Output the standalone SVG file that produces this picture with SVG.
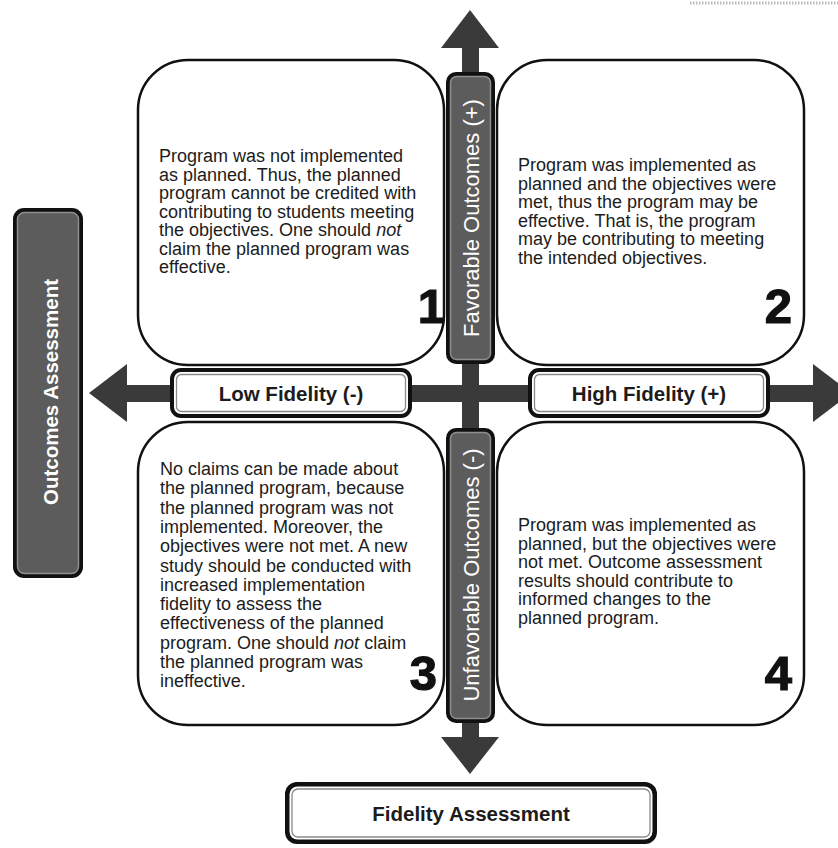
<svg xmlns="http://www.w3.org/2000/svg" width="838" height="848" viewBox="0 0 838 848">
<style>
.bg{fill:#fff}
.quad{fill:#fff;stroke:#111;stroke-width:2.5}
.qt{font-family:"Liberation Sans",Arial,sans-serif;font-size:18px;fill:#1c1c1c}
.num{font-family:"Liberation Sans",Arial,sans-serif;font-weight:bold;font-size:49px;fill:#111;stroke:#111;stroke-width:1.2}
.lbl{font-family:"Liberation Sans",Arial,sans-serif;font-weight:bold;font-size:20.5px;fill:#1c1c1c;text-anchor:middle}
.vt{font-family:"Liberation Sans",Arial,sans-serif;font-size:22px;fill:#fff;text-anchor:middle}
.vtb{font-family:"Liberation Sans",Arial,sans-serif;font-weight:bold;font-size:20.5px;fill:#fff;text-anchor:middle}
.ax{fill:#3a3a3a}
.outer{fill:#111}
.wfill{fill:#fff}
.winner{fill:#fff;stroke:#8a8a8a;stroke-width:1.3}
.dinner{fill:#5c5c5c;stroke:#8e8e8e;stroke-width:1.5}
</style>
<rect class="bg" x="0" y="0" width="838" height="848"/>
<line x1="690" y1="3" x2="838" y2="3" stroke="#bbb" stroke-width="3" stroke-dasharray="1.5 1.5"/>

<g id="connectors">
  <rect class="ax" x="462" y="46" width="17" height="692"/>
  <rect class="ax" x="126" y="385" width="688" height="17"/>
  <polygon class="ax" points="470,10 499,48 441,48"/>
  <polygon class="ax" points="470,774 499,737 441,737"/>
  <polygon class="ax" points="89,393 127,364 127,422"/>
  <polygon class="ax" points="851,393 813,364 813,422"/>
</g>

<g id="quadrant1">
  <rect class="quad" x="138" y="60" width="306" height="305" rx="50"/>
  <text class="qt" x="159" y="162">
    <tspan x="159">Program was not implemented</tspan>
    <tspan x="159" dy="18.5">as planned. Thus, the planned</tspan>
    <tspan x="159" dy="18.5">program cannot be credited with</tspan>
    <tspan x="159" dy="18.5">contributing to students meeting</tspan>
    <tspan x="159" dy="18.5">the objectives. One should <tspan font-style="italic">not</tspan></tspan>
    <tspan x="159" dy="18.5">claim the planned program was</tspan>
    <tspan x="159" dy="18.5">effective.</tspan>
  </text>
  <text class="num" x="445" y="323" text-anchor="end">1</text>
</g>

<g id="quadrant2">
  <rect class="quad" x="497" y="60" width="307" height="305" rx="50"/>
  <text class="qt" x="518" y="171">
    <tspan x="518">Program was implemented as</tspan>
    <tspan x="518" dy="18.5">planned and the objectives were</tspan>
    <tspan x="518" dy="18.5">met, thus the program may be</tspan>
    <tspan x="518" dy="18.5">effective. That is, the program</tspan>
    <tspan x="518" dy="18.5">may be contributing to meeting</tspan>
    <tspan x="518" dy="18.5">the intended objectives.</tspan>
  </text>
  <text class="num" x="792" y="323" text-anchor="end">2</text>
</g>

<g id="quadrant3">
  <rect class="quad" x="138" y="422" width="306" height="303" rx="50"/>
  <text class="qt" x="160" y="475">
    <tspan x="160">No claims can be made about</tspan>
    <tspan x="160" dy="19.3">the planned program, because</tspan>
    <tspan x="160" dy="19.3">the planned program was not</tspan>
    <tspan x="160" dy="19.3">implemented. Moreover, the</tspan>
    <tspan x="160" dy="19.3">objectives were not met. A new</tspan>
    <tspan x="160" dy="19.3">study should be conducted with</tspan>
    <tspan x="160" dy="19.3">increased implementation</tspan>
    <tspan x="160" dy="19.3">fidelity to assess the</tspan>
    <tspan x="160" dy="19.3">effectiveness of the planned</tspan>
    <tspan x="160" dy="19.3">program. One should <tspan font-style="italic">not</tspan> claim</tspan>
    <tspan x="160" dy="19.3">the planned program was</tspan>
    <tspan x="160" dy="19.3">ineffective.</tspan>
  </text>
  <text class="num" x="437" y="690" text-anchor="end">3</text>
</g>

<g id="quadrant4">
  <rect class="quad" x="497" y="422" width="307" height="303" rx="50"/>
  <text class="qt" x="518" y="531">
    <tspan x="518">Program was implemented as</tspan>
    <tspan x="518" dy="18.5">planned, but the objectives were</tspan>
    <tspan x="518" dy="18.5">not met. Outcome assessment</tspan>
    <tspan x="518" dy="18.5">results should contribute to</tspan>
    <tspan x="518" dy="18.5">informed changes to the</tspan>
    <tspan x="518" dy="18.5">planned program.</tspan>
  </text>
  <text class="num" x="792" y="690" text-anchor="end">4</text>
</g>

<g id="favorable-outcomes">
  <rect class="outer" x="446" y="72" width="49" height="292" rx="10"/>
  <rect class="dinner" x="450.5" y="76.5" width="40" height="283" rx="6"/>
  <text class="vt" transform="translate(471,218) rotate(-90)" x="0" y="8">Favorable Outcomes (+)</text>
</g>

<g id="unfavorable-outcomes">
  <rect class="outer" x="446" y="428" width="49" height="295" rx="10"/>
  <rect class="dinner" x="450.5" y="432.5" width="40" height="286" rx="6"/>
  <text class="vt" transform="translate(471,575) rotate(-90)" x="0" y="8">Unfavorable Outcomes (-)</text>
</g>

<g id="outcomes-assessment">
  <rect class="outer" x="13" y="208" width="70" height="370" rx="11"/>
  <rect class="dinner" x="17.5" y="212.5" width="61" height="361" rx="7"/>
  <text class="vtb" transform="translate(50,392) rotate(-90)" x="0" y="7.5">Outcomes Assessment</text>
</g>

<g id="low-fidelity">
  <rect class="outer" x="170" y="368" width="242" height="50" rx="11"/>
  <rect class="wfill" x="174" y="372" width="234" height="42" rx="7"/>
  <rect class="winner" x="176.5" y="374.5" width="229" height="37" rx="5"/>
  <text class="lbl" x="291" y="400.5">Low Fidelity (-)</text>
</g>

<g id="high-fidelity">
  <rect class="outer" x="528" y="368" width="242" height="50" rx="11"/>
  <rect class="wfill" x="532" y="372" width="234" height="42" rx="7"/>
  <rect class="winner" x="534.5" y="374.5" width="229" height="37" rx="5"/>
  <text class="lbl" x="649" y="400.5">High Fidelity (+)</text>
</g>

<g id="fidelity-assessment">
  <rect class="outer" x="285" y="782" width="372" height="62" rx="12"/>
  <rect class="wfill" x="289.5" y="786.5" width="363" height="53" rx="8"/>
  <rect class="winner" x="292" y="789" width="358" height="48" rx="6"/>
  <text class="lbl" x="471" y="821">Fidelity Assessment</text>
</g>
</svg>
